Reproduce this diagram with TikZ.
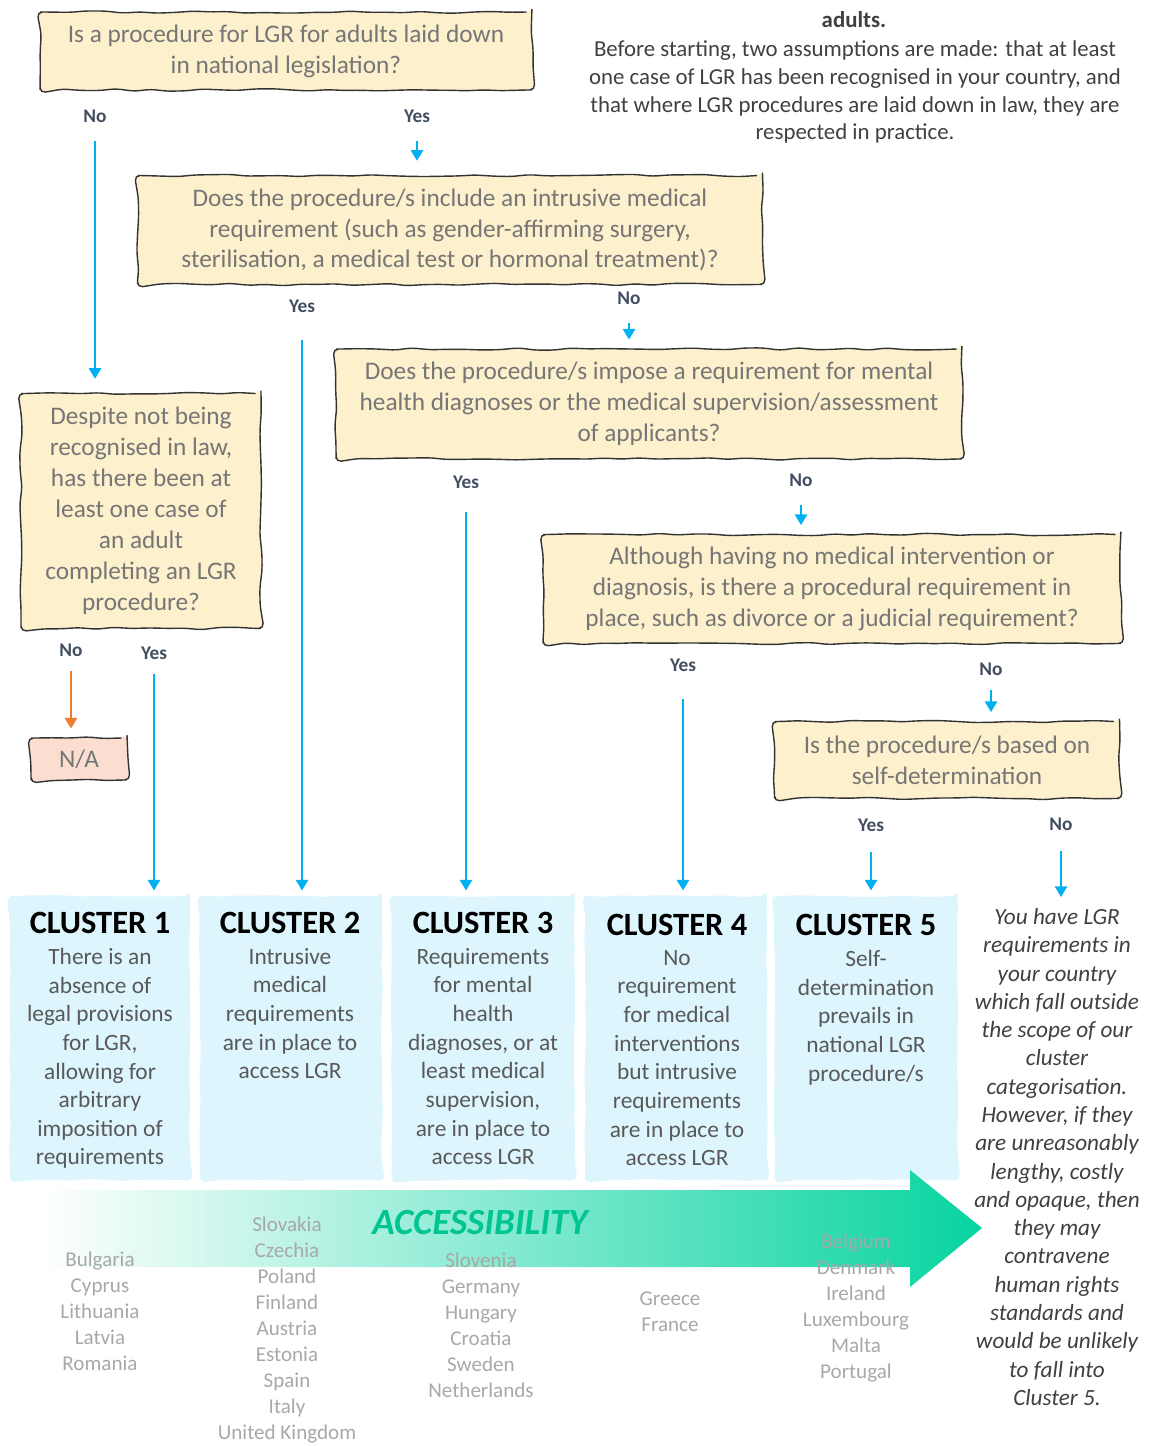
\documentclass[tikz,border=0pt]{standalone}
\usepackage{fontspec}
\setmainfont{Carlito}
\usetikzlibrary{positioning,arrows.meta,decorations.pathmorphing}
\definecolor{qfill}{RGB}{253,240,204}
\definecolor{qtext}{RGB}{118,118,118}
\definecolor{nafill}{RGB}{251,222,208}
\definecolor{cfill}{RGB}{221,245,253}
\definecolor{ctext}{RGB}{89,89,89}
\definecolor{yngray}{RGB}{66,78,96}
\definecolor{flowblue}{RGB}{0,176,240}
\definecolor{flowor}{RGB}{237,125,49}
\definecolor{cgray}{RGB}{168,168,168}
\definecolor{introgray}{RGB}{64,64,64}
\definecolor{accgreen}{RGB}{0,196,146}
\definecolor{arrowgreen}{RGB}{8,212,160}

\begin{document}
\begin{tikzpicture}[
  x=0.02cm, y=-0.02cm,
  >={Triangle[width=7pt,length=6pt]},
  qbox/.style={draw=black!80, line width=0.8pt, fill=qfill, text=qtext, align=center,
               inner sep=0pt, font=\fontsize{14.4}{17.6}\selectfont,
               decorate, decoration={random steps, segment length=10pt, amplitude=0.7pt},
               rounded corners=3pt},
  cbox/.style={fill=cfill, inner sep=0pt, decorate,
               decoration={random steps, segment length=10pt, amplitude=0.5pt},
               rounded corners=3pt},
  ctitle/.style={font=\fontsize{18.5}{22}\selectfont\bfseries, text=black},
  cbody/.style={font=\fontsize{13.3}{16.3}\selectfont, text=ctext, align=center, inner sep=0pt},
  yn/.style={font=\fontsize{11}{13}\selectfont\bfseries, text=yngray},
  flow/.style={->, draw=flowblue, line width=0.9pt, shorten <=7pt, shorten >=5pt},
  country/.style={font=\fontsize{12}{14.8}\selectfont, text=cgray, align=center},
]
\useasboundingbox (0,0) rectangle (1150,1446);
\pgfmathsetseed{7}

% ---------- intro ----------
\node[font=\fontsize{13}{15.9}\selectfont\bfseries, text=introgray] (ttl) at (854,20) {adults.};
\node[font=\fontsize{13}{15.9}\selectfont, text=introgray, align=center] (intro) at (855,92)
  {Before starting, two assumptions are made: that at least\\
   one case of LGR has been recognised in your country, and\\
   that where LGR procedures are laid down in law, they are\\
   respected in practice.};

% ---------- questions ----------
\node[qbox, minimum width=9.84cm, minimum height=1.56cm] (q1) at (286,51)
  {Is a procedure for LGR for adults laid down\\in national legislation?};
\node[qbox, minimum width=12.5cm, minimum height=2.18cm] (q2) at (450,230)
  {Does the procedure/s include an intrusive medical\\
   requirement (such as gender-affirming surgery,\\
   sterilisation, a medical test or hormonal treatment)?};
\node[qbox, minimum width=12.52cm, minimum height=2.2cm] (q3) at (649,404)
  {Does the procedure/s impose a requirement for mental\\
   health diagnoses or the medical supervision/assessment\\
   of applicants?};
\node[qbox, minimum width=11.56cm, minimum height=2.18cm] (q4) at (832,589)
  {Although having no medical intervention or\\
   diagnosis, is there a procedural requirement in\\
   place, such as divorce or a judicial requirement?};
\node[qbox, minimum width=6.9cm, minimum height=1.54cm] (q5) at (947,760)
  {Is the procedure/s based on\\self-determination};
\node[qbox, minimum width=4.8cm, minimum height=4.7cm] (qa) at (141,511)
  {Despite not being\\recognised in law,\\has there been at\\least one case of\\an adult\\
   completing an LGR\\procedure?};
\node[qbox, fill=nafill, minimum width=1.92cm, minimum height=0.84cm] (na) at (79,759) {N/A};

% ---------- yes / no ----------
\node[yn] (q1no)  at (95,116)   {No};
\node[yn] (q1yes) at (417,116)  {Yes};
\node[yn] (q2yes) at (302,306)  {Yes};
\node[yn] (q2no)  at (629,298)  {No};
\node[yn] (q3yes) at (466,482)  {Yes};
\node[yn] (q3no)  at (801,480)  {No};
\node[yn] (qano)  at (71,650)   {No};
\node[yn] (qayes) at (154,653)  {Yes};
\node[yn] (q4yes) at (683,665)  {Yes};
\node[yn] (q4no)  at (991,669)  {No};
\node[yn] (q5yes) at (871,825)  {Yes};
\node[yn] (q5no)  at (1061,824) {No};

% ---------- clusters ----------
\node[cbox, minimum width=3.6cm,  minimum height=5.68cm] (c1) at (100,1038) {};
\node[cbox, minimum width=3.64cm, minimum height=5.68cm] (c2) at (291,1038) {};
\node[cbox, minimum width=3.66cm, minimum height=5.68cm] (c3) at (483,1038) {};
\node[cbox, minimum width=3.64cm, minimum height=5.68cm] (c4) at (676,1038) {};
\node[cbox, minimum width=3.66cm, minimum height=5.68cm] (c5) at (866,1038) {};

\node[ctitle] (c1t) at (100,923) {CLUSTER 1};
\node[ctitle] (c2t) at (290,923) {CLUSTER 2};
\node[ctitle] (c3t) at (483,923) {CLUSTER 3};
\node[ctitle] (c4t) at (677,925) {CLUSTER 4};
\node[ctitle] (c5t) at (866,925) {CLUSTER 5};

\node[cbody, below=4.5pt of c1t] (c1b)
  {There is an\\absence of\\legal provisions\\for LGR,\\allowing for\\arbitrary\\imposition of\\requirements};
\node[cbody, below=4.5pt of c2t] (c2b)
  {Intrusive\\medical\\requirements\\are in place to\\access LGR};
\node[cbody, below=4.5pt of c3t] (c3b)
  {Requirements\\for mental\\health\\diagnoses, or at\\least medical\\supervision,\\are in place to\\access LGR};
\node[cbody, below=4.5pt of c4t] (c4b)
  {No\\requirement\\for medical\\interventions\\but intrusive\\requirements\\are in place to\\access LGR};
\node[cbody, below=4.5pt of c5t] (c5b)
  {Self-\\determination\\prevails in\\national LGR\\procedure/s};

% ---------- outside note ----------
\node[font=\fontsize{13.2}{16.1}\selectfont\itshape, text=introgray, align=center] (note) at (1057,1157)
  {You have LGR\\requirements in\\your country\\which fall outside\\the scope of our\\cluster\\
   categorisation.\\However, if they\\are unreasonably\\lengthy, costly\\and opaque, then\\they may\\
   contravene\\human rights\\standards and\\would be unlikely\\to fall into\\Cluster 5.};

% ---------- connectors ----------
\draw[flow, shorten >=8pt] (q1no.south) -- (q1no.south |- qa.north);
\draw[flow, shorten >=8pt] (q1yes.south) -- (q1yes.south |- q2.north);
\draw[flow, shorten <=12pt, shorten >=3pt] (q2yes.south) -- (q2yes.south |- c2.north);
\draw[flow] (q2no.south) -- (q2no.south |- q3.north);
\draw[flow, shorten <=10pt, shorten >=3pt] (q3yes.south) -- (q3yes.south |- c3.north);
\draw[flow] (q3no.south) -- (q3no.south |- q4.north);
\draw[flow, draw=flowor, shorten <=5pt] (qano.south) -- (qano.south |- na.north);
\draw[flow, shorten <=5pt, shorten >=3pt] (qayes.south) -- (qayes.south |- c1.north);
\draw[flow, shorten <=12pt, shorten >=3pt] (q4yes.south) -- (q4yes.south |- c4.north);
\draw[flow, shorten <=5pt] (q4no.south) -- (q4no.south |- q5.north);
\draw[flow, shorten <=8pt, shorten >=3pt] (q5yes.south) -- (q5yes.south |- c5.north);
\draw[flow, shorten <=8pt, shorten >=3pt] (q5no.south) -- (q5no.south |- note.north);

% ---------- accessibility arrow ----------
\shade[left color=white, right color=arrowgreen]
  (40,1190) -- (910,1190) -- (910,1170) -- (982,1228) -- (910,1287) -- (910,1267) -- (40,1267) -- cycle;
\node[font=\fontsize{21}{25}\selectfont\bfseries\itshape, text=accgreen] (acc) at (480,1223) {ACCESSIBILITY};

% ---------- countries ----------
\node[country] (cl1) at (100,1311) {Bulgaria\\Cyprus\\Lithuania\\Latvia\\Romania};
\node[country] (cl2) at (287,1330) {Slovakia\\Czechia\\Poland\\Finland\\Austria\\Estonia\\Spain\\Italy\\United Kingdom};
\node[country] (cl3) at (481,1325) {Slovenia\\Germany\\Hungary\\Croatia\\Sweden\\Netherlands};
\node[country] (cl4) at (670,1312) {Greece\\France};
\node[country] (cl5) at (856,1308) {Belgium\\Denmark\\Ireland\\Luxembourg\\Malta\\Portugal};

\end{tikzpicture}
\end{document}
